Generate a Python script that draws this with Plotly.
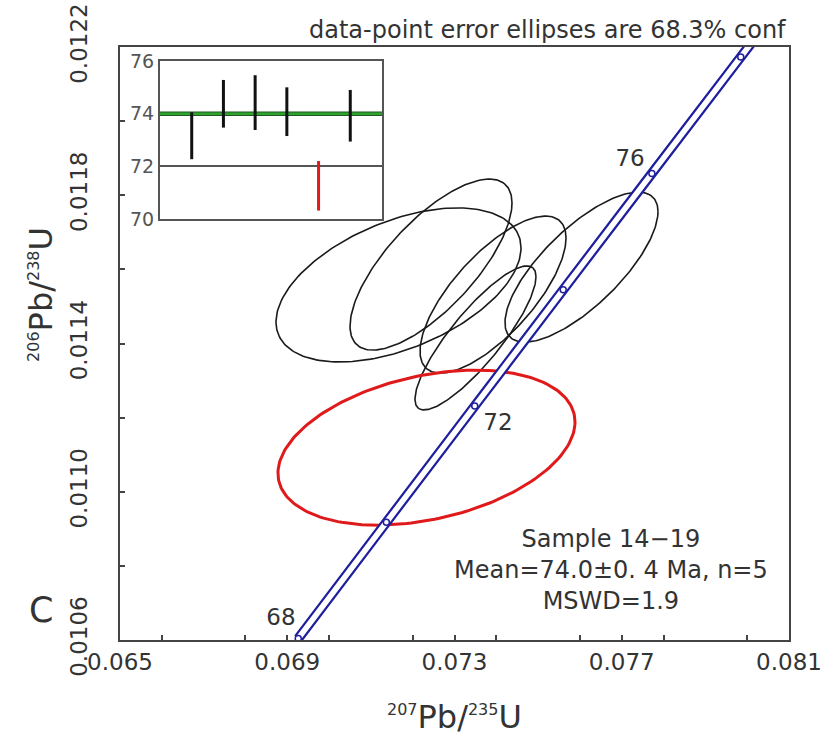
import numpy as np
import plotly.graph_objects as go

# ---------------- data ----------------
# concordia age markers (Ma) and their ratios
conc_age = [68, 70, 72, 74, 76, 78, 80]
conc_x = [0.069263, 0.071371, 0.073484, 0.075600, 0.077721, 0.079846, 0.081975]
conc_y = [0.0106041, 0.0109177, 0.0112314, 0.0115451, 0.0118590, 0.0121730, 0.0124870]
conc_labels = ["68", "72", "76"]
conc_label_x = [0.06885, 0.07404, 0.07720]
conc_label_y = [0.010657, 0.011183, 0.011895]

# error ellipses: centre, half-extent in x and y, correlation
ell_x = [0.071661, 0.072438, 0.073921, 0.073502, 0.076037, 0.072330]
ell_sx = [0.002930, 0.001937, 0.001746, 0.001447, 0.001830, 0.003552]
ell_y = [0.011558, 0.011613, 0.011532, 0.011415, 0.011606, 0.011119]
ell_sy = [0.0002078, 0.0002307, 0.0002118, 0.0001943, 0.0002024, 0.0002091]
ell_rho = [0.48, 0.72, 0.72, 0.85, 0.74, 0.33]
ell_rejected = [False, False, False, False, False, True]

# inset: weighted mean plot
bar_x = [1, 2, 3, 4, 5, 6]
bar_lo = [72.27, 73.47, 73.38, 73.15, 70.32, 72.94]
bar_hi = [74.05, 75.28, 75.46, 75.00, 72.20, 74.90]
bar_rejected = [False, False, False, False, True, False]
mean_age = 74.0

x_ticks = [0.065, 0.069, 0.073, 0.077, 0.081]
y_ticks = [0.0106, 0.0110, 0.0114, 0.0118, 0.0122]
inset_ticks = [70, 72, 74, 76]

# ---------------- figure ----------------
FONT = "DejaVu Sans, Liberation Sans, Arial, sans-serif"
GREY = "#333333"
BLUE = "#1f1f9e"
fig = go.Figure()

t = np.linspace(0, 2 * np.pi, 200)
for cx, sx, cy, sy, r, rej in zip(ell_x, ell_sx, ell_y, ell_sy, ell_rho, ell_rejected):
    ex = cx + sx * np.cos(t)
    ey = cy + sy * (r * np.cos(t) + np.sqrt(1 - r * r) * np.sin(t))
    fig.add_trace(go.Scatter(x=ex, y=ey, mode="lines",
                             line=dict(color="#e01a1a" if rej else "#1a1a1a",
                                       width=3 if rej else 1.6),
                             hoverinfo="skip", showlegend=False))

# concordia band (double line)
fig.add_trace(go.Scatter(x=conc_x, y=conc_y, mode="lines",
                         line=dict(color=BLUE, width=10, shape="spline"),
                         showlegend=False, hoverinfo="skip"))
fig.add_trace(go.Scatter(x=conc_x, y=conc_y, mode="lines",
                         line=dict(color="white", width=5.5, shape="spline"),
                         showlegend=False, hoverinfo="skip"))
fig.add_trace(go.Scatter(x=conc_x, y=conc_y, mode="markers",
                         marker=dict(symbol="circle", size=6, color="white",
                                     line=dict(color=BLUE, width=1.5)),
                         showlegend=False, hoverinfo="skip"))
fig.add_trace(go.Scatter(x=conc_label_x, y=conc_label_y, mode="text", text=conc_labels,
                         textfont=dict(family=FONT, size=23, color=GREY),
                         showlegend=False, hoverinfo="skip"))

# inset traces
fig.add_trace(go.Scatter(x=[0, 7], y=[mean_age, mean_age], mode="lines",
                         line=dict(color="#1e5a1e", width=4.5), xaxis="x3", yaxis="y3",
                         showlegend=False, hoverinfo="skip"))
fig.add_trace(go.Scatter(x=[0, 7], y=[mean_age, mean_age], mode="lines",
                         line=dict(color="#2fa32f", width=2.5), xaxis="x3", yaxis="y3",
                         showlegend=False, hoverinfo="skip"))
for bx, lo, hi, rej in zip(bar_x, bar_lo, bar_hi, bar_rejected):
    fig.add_trace(go.Scatter(x=[bx, bx], y=[lo, hi], mode="lines",
                             line=dict(color="#e01a1a" if rej else "#111111", width=3),
                             xaxis="x3", yaxis="y3", showlegend=False, hoverinfo="skip"))

SUP = '<sup><span style="font-size:16px">{}</span></sup>'

fig.update_layout(
    width=821, height=738,
    margin=dict(l=120, r=32, t=47, b=98, autoexpand=False),
    paper_bgcolor="white", plot_bgcolor="white",
    font=dict(family=FONT, color=GREY),
    xaxis=dict(range=[0.065, 0.081], tickvals=x_ticks, automargin=False,
               ticklabeloverflow="allow",
               ticktext=[f"{v:.3f}" for v in x_ticks], ticks="inside", ticklen=5,
               tickcolor="#444", tickwidth=1.5,
               tickfont=dict(size=23, color=GREY),
               showgrid=False, zeroline=False,
               showline=True, linecolor="#444", linewidth=2, mirror=True,
               minor=dict(dtick=0.002, ticks="inside", ticklen=5,
                          tickcolor="#444", tickwidth=1.5, showgrid=False)),
    yaxis=dict(range=[0.0106, 0.0122], tickvals=y_ticks, automargin=False,
               ticklabeloverflow="allow",
               ticktext=[f"{v:.4f}" for v in y_ticks], ticks="inside", ticklen=5,
               tickcolor="#444", tickwidth=1.5, tickangle=-90,
               ticklabelstandoff=22,
               tickfont=dict(size=23, color=GREY),
               showgrid=False, zeroline=False,
               showline=True, linecolor="#444", linewidth=2, mirror=True,
               minor=dict(dtick=0.0002, ticks="inside", ticklen=5,
                          tickcolor="#444", tickwidth=1.5, showgrid=False)),
    xaxis3=dict(domain=[0.0598, 0.3916], anchor="y3", range=[0, 7], automargin=False,
                showticklabels=False, ticks="", showgrid=False, zeroline=False,
                showline=True, linecolor="#555", linewidth=2, mirror=True),
    yaxis3=dict(domain=[0.710, 0.9764], anchor="x3", range=[70, 76], automargin=False,
                tickvals=inset_ticks, ticks="", tickfont=dict(size=19, color="#555"),
                showgrid=True, gridcolor="#555", gridwidth=1.5, zeroline=False,
                showline=True, linecolor="#555", linewidth=2, mirror=True),
    annotations=[
        dict(text="data-point error ellipses are 68.3% conf", xref="paper", yref="paper",
             x=0.9985, y=1.029, xanchor="right", yanchor="middle", showarrow=False,
             font=dict(size=24, color=GREY)),
        dict(text="Sample 14\u221219<br>Mean=74.0\u00b10. 4 Ma, n=5<br>MSWD=1.9",
             xref="paper", yref="paper", x=0.734, y=0.118, xanchor="center",
             yanchor="middle", showarrow=False, align="center",
             font=dict(size=24, color=GREY)),
        dict(text="C", xref="paper", yref="paper", x=-0.118, y=0.05,
             xanchor="center", yanchor="middle", showarrow=False,
             font=dict(size=35, color=GREY)),
        dict(text=SUP.format("207") + "Pb/" + SUP.format("235") + "U",
             xref="paper", yref="paper",
             x=0.5, y=-0.13, xanchor="center", yanchor="middle", showarrow=False,
             font=dict(size=32, color=GREY)),
        dict(text=SUP.format("206") + "Pb/" + SUP.format("238") + "U",
             xref="paper", yref="paper",
             x=-0.118, y=0.582, xanchor="center", yanchor="middle", showarrow=False,
             textangle=-90, font=dict(size=32, color=GREY)),
    ],
)

fig.write_html("out.html")
